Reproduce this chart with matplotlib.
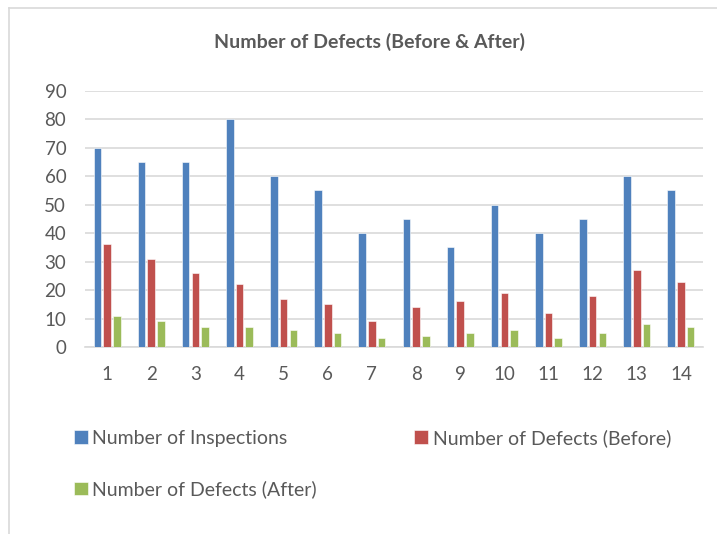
import numpy as np
import matplotlib.pyplot as plt
from matplotlib.lines import Line2D

plt.rcParams['font.family'] = ['Lato', 'DejaVu Sans']

runs = [str(i) for i in range(1, 15)]
inspections = [70, 65, 65, 80, 60, 55, 40, 45, 35, 50, 40, 45, 60, 55]
defects_before = [36, 31, 26, 22, 17, 15, 9, 14, 16, 19, 12, 18, 27, 23]
defects_after = [11, 9, 7, 7, 6, 5, 3, 4, 5, 6, 3, 5, 8, 7]

grey_text = '#595959'
grid_col = '#d9d9d9'

fig = plt.figure(figsize=(7.17, 5.34), dpi=100)
ax = fig.add_axes([85 / 717, 1 - 347 / 534, 618 / 717, (347 - 90.7) / 534])

x = np.arange(1, len(runs) + 1)
step = 0.22
width = 0.17
b1 = ax.bar(x - step, inspections, width, color='#4F81BD', edgecolor='white', linewidth=0.4,
            label='Number of Inspections', zorder=3)
b2 = ax.bar(x, defects_before, width, color='#C0504D', edgecolor='white', linewidth=0.4,
            label='Number of Defects (Before)', zorder=3)
b3 = ax.bar(x + step, defects_after, width, color='#9BBB59', edgecolor='white', linewidth=0.4,
            label='Number of Defects (After)', zorder=3)

ax.set_xlim(0.5, 14.5)
ax.set_ylim(0, 90)
ax.set_yticks(range(0, 91, 10))
ax.set_xticks(x)
ax.set_xticklabels(runs)
ax.yaxis.grid(True, color=grid_col, linewidth=1.2, zorder=0)
ax.set_axisbelow(True)
for s in ['top', 'right', 'left']:
    ax.spines[s].set_visible(False)
ax.spines['bottom'].set_color(grid_col)
ax.spines['bottom'].set_linewidth(1.2)
ax.tick_params(axis='both', length=0, labelsize=13.5, labelcolor=grey_text)
ax.tick_params(axis='y', pad=13.5)
ax.tick_params(axis='x', pad=14)

fig.text(370 / 717, 1 - 42 / 534, 'Number of Defects (Before & After)', ha='center', va='center',
         fontsize=14, fontweight='bold', color=grey_text)

fig.legend([b1, b3, b2], [b1.get_label(), b3.get_label(), b2.get_label()],
           ncol=2, loc='upper left', bbox_to_anchor=(74 / 717, 1 - 429 / 534),
           frameon=False, fontsize=14, labelcolor=grey_text,
           handlelength=0.7, handleheight=0.7, handletextpad=0.25,
           labelspacing=1.73, columnspacing=5.0, borderpad=0, borderaxespad=0)

# chart frame (light grey, only top and left edges visible)
fig.add_artist(Line2D([9 / 717, 1], [1 - 8 / 534, 1 - 8 / 534], color=grid_col, linewidth=1.2,
                      transform=fig.transFigure))
fig.add_artist(Line2D([9 / 717, 9 / 717], [0, 1 - 8 / 534], color=grid_col, linewidth=1.2,
                      transform=fig.transFigure))

fig.savefig('out.png', dpi=100)
